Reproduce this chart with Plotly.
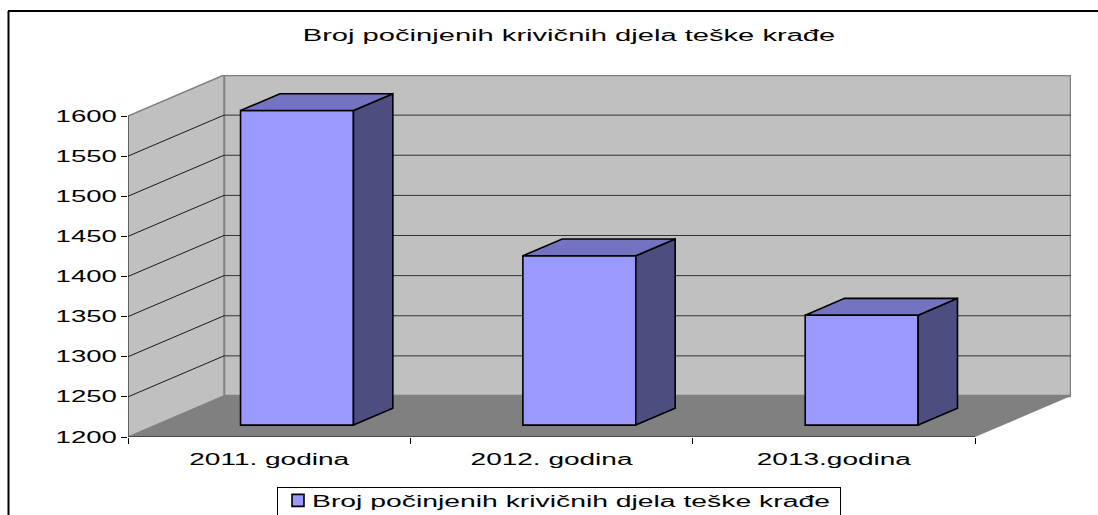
import plotly.graph_objects as go

categories = ["2011. godina", "2012. godina", "2013.godina"]
values = [1592, 1411, 1337]
y_ticks = [1200, 1250, 1300, 1350, 1400, 1450, 1500, 1550, 1600]
title = "Broj počinjenih krivičnih djela teške krađe"
series_name = "Broj počinjenih krivičnih djela teške krađe"

W, H = 1098, 515
X0, X1, Y0, YTOP = 128, 1071, 437, 75      # pixel box of the plot area
PX_CAT = 847 / 3
PX_VAL = 321 / 400
DX = 96 / PX_CAT                            # depth in x units
DY = 41 / PX_VAL                            # depth in y units
F0, F1 = 0.29, 0.70                         # bar depth span
BW = 0.4
YMIN, YMAX = y_ticks[0], y_ticks[-1]
N = len(categories)

FRONT, TOP, SIDE = "#9999FF", "#7373BF", "#4D4D80"

fig = go.Figure()
centers = [i + 0.5 + F0 * DX for i in range(N)]
fig.add_trace(go.Bar(
    x=centers, y=[v - YMIN for v in values], base=YMIN + F0 * DY, width=BW,
    name=series_name, showlegend=True, hoverinfo="skip",
    marker=dict(color=FRONT, line=dict(color="black", width=1.6)),
))

side_x, side_y, top_x, top_y = [], [], [], []
ddx, ddy = (F1 - F0) * DX, (F1 - F0) * DY
for c, v in zip(centers, values):
    l, r = c - BW / 2, c + BW / 2
    b, t = YMIN + F0 * DY, v + F0 * DY
    side_x += [r, r + ddx, r + ddx, r, r, None]
    side_y += [b, b + ddy, t + ddy, t, b, None]
    top_x += [l, l + ddx, r + ddx, r, l, None]
    top_y += [t, t + ddy, t + ddy, t, t, None]
for xs, ys, col in ((side_x, side_y, SIDE), (top_x, top_y, TOP)):
    fig.add_trace(go.Scatter(x=xs, y=ys, mode="lines", fill="toself", fillcolor=col,
                             line=dict(color="black", width=1.6), showlegend=False,
                             hoverinfo="skip"))

shapes = []
def poly(pts, fill, line=None, lw=0):
    path = "M" + "L".join(f"{a},{b}" for a, b in pts) + "Z"
    shapes.append(dict(type="path", path=path, xref="x", yref="y", layer="below",
                       fillcolor=fill, line=dict(color=line or fill, width=lw)))
def seg(a, b, c, d, col, lw):
    shapes.append(dict(type="line", x0=a, y0=b, x1=c, y1=d, xref="x", yref="y",
                       layer="below", line=dict(color=col, width=lw)))

poly([(DX, YMIN + DY), (N + DX, YMIN + DY), (N + DX, YMAX + DY), (DX, YMAX + DY)],
     "#C0C0C0", "#808080", 2.5)
poly([(0, YMIN), (DX, YMIN + DY), (DX, YMAX + DY), (0, YMAX)], "#C0C0C0", "#808080", 1.5)
poly([(0, YMIN), (N, YMIN), (N + DX, YMIN + DY), (DX, YMIN + DY)], "#808080")
for v in y_ticks[1:-1]:
    seg(0, v, DX, v + DY, "#1a1a1a", 1)
    seg(DX, v + DY, N + DX, v + DY, "#333333", 1)
seg(0, YMIN, 0, YMAX, "#333333", 1)
seg(0, YMIN, N, YMIN, "#111111", 1.2)
# chart frame: left and top edges only
shapes.append(dict(type="line", xref="paper", yref="paper", x0=8.5 / W, x1=8.5 / W,
                   y0=0, y1=1 - 11 / H, line=dict(color="black", width=2)))
shapes.append(dict(type="line", xref="paper", yref="paper", x0=8 / W, x1=1,
                   y0=1 - 11 / H, y1=1 - 11 / H, line=dict(color="black", width=2)))

FONT = "Liberation Sans, Arial, sans-serif"
fig.update_layout(
    width=W, height=H, autosize=False, margin=dict(l=0, r=0, t=0, b=0, autoexpand=False),
    paper_bgcolor="white", plot_bgcolor="rgba(0,0,0,0)",
    font=dict(family=FONT, size=16, color="black"),
    title=dict(text=title, x=569 / W, xanchor="center", y=1 - 35 / H, yanchor="middle",
               font=dict(family=FONT, size=16, color="black")),
    shapes=shapes,
    xaxis=dict(domain=[X0 / W, X1 / W], range=[0, N + DX], showgrid=False, zeroline=False,
               tickmode="array", tickvals=[i + 0.5 for i in range(N)], ticktext=categories,
               ticks="", ticklabelstandoff=11,
               minor=dict(tickmode="array", tickvals=list(range(N + 1)), ticks="outside",
                          ticklen=6, tickcolor="black", tickwidth=1, showgrid=False)),
    yaxis=dict(domain=[1 - Y0 / H, 1 - YTOP / H], range=[YMIN, YMAX + DY], showgrid=False,
               zeroline=False, tickmode="array", tickvals=y_ticks, ticks="outside",
               ticklen=6, tickcolor="black", tickwidth=1, ticklabelstandoff=1),
    legend=dict(x=277 / W, y=1 - 487 / H, xanchor="left", yanchor="top", orientation="h",
                bgcolor="white", bordercolor="black", borderwidth=1,
                entrywidth=517, entrywidthmode="pixels", itemwidth=30,
                font=dict(family=FONT, size=16, color="black")),
    showlegend=True,
)

post = """
document.body.style.margin = '0';
function stretch(sel, f) {
  document.querySelectorAll(sel).forEach(function (t) {
    var n = t.getComputedTextLength();
    if (n > 0) {
      t.setAttribute('lengthAdjust', 'spacingAndGlyphs');
      t.setAttribute('textLength', n * f);
    }
  });
}
stretch('svg .gtitle', 1.82);
stretch('svg .xtick text', 1.75);
stretch('svg .ytick text', 1.72);
stretch('svg .legendtext', 1.77);
document.querySelectorAll('svg .legend .traces').forEach(function (g) {
  g.setAttribute('transform', g.getAttribute('transform') + ' translate(0,-4.5)');
});
document.querySelectorAll('svg .legendtext').forEach(function (t) {
  t.setAttribute('x', parseFloat(t.getAttribute('x')) - 6);
});
document.querySelectorAll('svg .legend path.legendbar').forEach(function (p) {
  p.setAttribute('d', 'M8,5H-8V-5H8Z');
  p.style.strokeWidth = '1px';
});
"""
fig.write_html("out.html", post_script=post, config={"responsive": False, "displayModeBar": False})
